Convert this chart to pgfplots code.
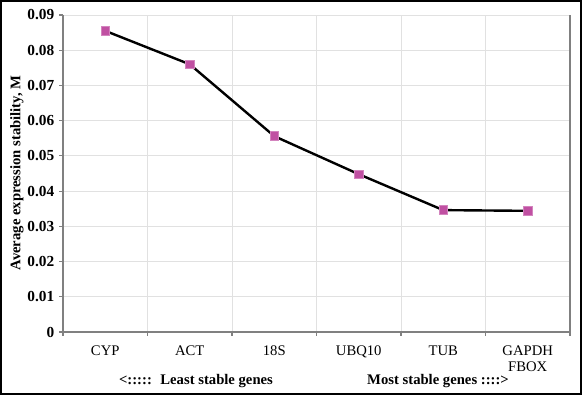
\documentclass[border=0pt]{standalone}
\usepackage{pgfplots}
\pgfplotsset{compat=1.18}
\usepackage{fontspec}
\setmainfont{Liberation Serif}
\definecolor{mk}{RGB}{192,80,162}
\definecolor{gridc}{RGB}{225,225,225}
\definecolor{axc}{RGB}{128,128,128}
\begin{document}
\begin{tikzpicture}
\useasboundingbox (0pt,0pt) rectangle (436.5pt,296.25pt);
\draw[line width=1.1pt] (0.6pt,0.6pt) rectangle (435.9pt,295.65pt);
\begin{axis}[
  at={(47.25pt,47.25pt)}, anchor=south west,
  scale only axis, width=380.25pt, height=237.75pt,
  xmin=-0.5, xmax=5.5, ymin=0, ymax=0.09,
  scaled y ticks=false,
  xtick={0,1,2,3,4,5},
  xticklabels={CYP,ACT,18S,UBQ10,TUB,GAPDH\\FBOX},
  xticklabel style={align=center, font=\fontsize{11}{12}\selectfont, yshift=-4pt},
  major x tick style={draw=none},
  minor xtick={-0.5,0.5,1.5,2.5,3.5,4.5,5.5},
  xminorgrids, minor grid style={gridc, line width=0.6pt},
  minor x tick style={axc},
  ytick={0,0.01,0.02,0.03,0.04,0.05,0.06,0.07,0.08,0.09},
  yticklabels={0,0.01,0.02,0.03,0.04,0.05,0.06,0.07,0.08,0.09},
  yticklabel style={font=\fontsize{11.5}{12}\bfseries\selectfont},
  ymajorgrids, major grid style={gridc, line width=0.6pt},
  tick align=outside, major tick length=3pt, minor tick length=3pt,
  tick style={axc, line width=0.8pt},
  axis x line*=bottom, axis y line*=left,
  axis line style={axc, line width=1.2pt, -},
  clip=false,
]
\addplot[black, line width=1.8pt, mark=square*, mark size=3.3pt,
  mark options={fill=mk, draw=mk!70!white, line width=0.4pt}]
  coordinates {(0,0.0855) (1,0.0760) (2,0.0556) (3,0.0448) (4,0.0346) (5,0.0344)};
\draw[axc, line width=1pt] (axis cs:5.5,0) -- (axis cs:5.5,0.09);
\end{axis}
\node[rotate=90, font=\fontsize{11}{12}\bfseries\selectfont] at (12.75pt,166.5pt) {Average expression stability, M};
\node[font=\fontsize{11}{12}\bfseries\selectfont] at (147pt,10.5pt) {<::::: \ Least stable genes};
\node[font=\fontsize{11}{12}\bfseries\selectfont] at (328.5pt,10.5pt) {Most stable genes ::::>};
\end{tikzpicture}
\end{document}
